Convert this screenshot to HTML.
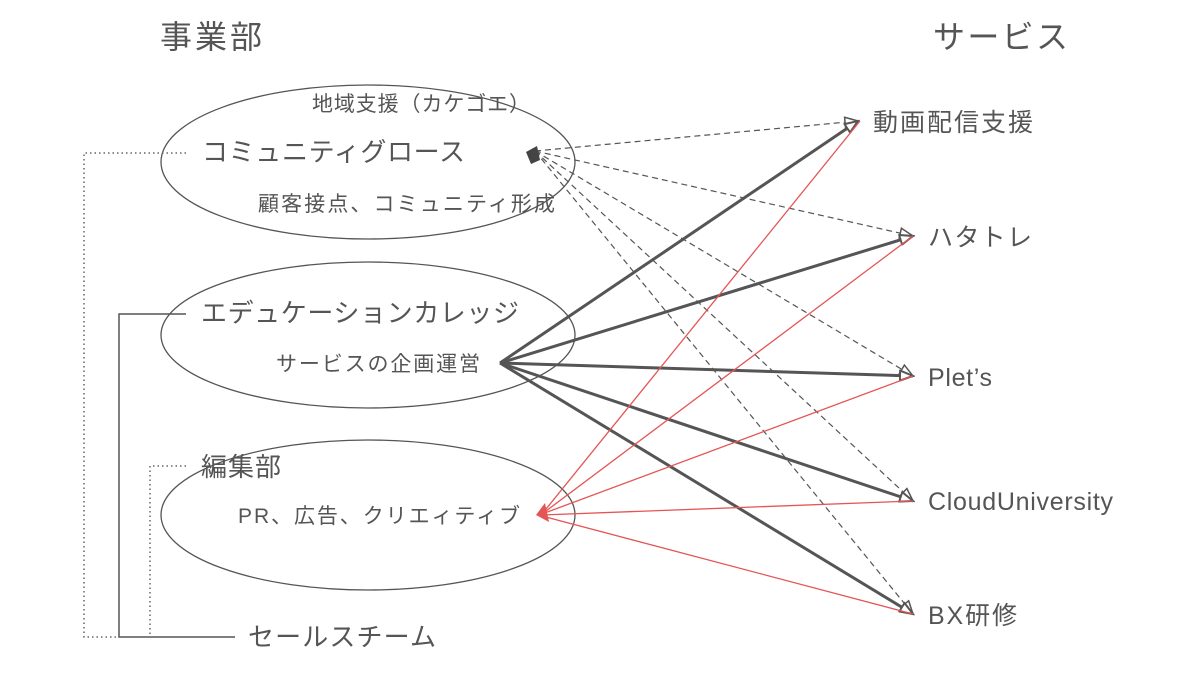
<!DOCTYPE html>
<html><head><meta charset="utf-8"><style>
html,body{margin:0;padding:0;background:#fff;}
svg text{font-family:"Liberation Sans","Noto Sans CJK JP",sans-serif;fill:#555;}
</style></head><body>
<svg width="1200" height="671" viewBox="0 0 1200 671" xmlns="http://www.w3.org/2000/svg">
<defs>
<marker id="oa" markerWidth="16" markerHeight="12" refX="14" refY="6" orient="auto" markerUnits="userSpaceOnUse">
<path d="M1,1 L14,6 L1,11 Z" fill="#fff" stroke="#555" stroke-width="2"/></marker>
<marker id="ob" markerWidth="16" markerHeight="12" refX="14" refY="6" orient="auto" markerUnits="userSpaceOnUse">
<path d="M1,1 L14,6 L1,11 Z" fill="#fff" stroke="#555" stroke-width="1.5"/></marker>
</defs>
<g fill="none" stroke="#555" stroke-width="1.3">
<ellipse cx="368" cy="162" rx="207" ry="77"/>
<ellipse cx="368" cy="335" rx="207" ry="73"/>
<ellipse cx="368" cy="515" rx="207" ry="75"/>
</g>
<g fill="none" stroke="#666" stroke-width="1.5" stroke-dasharray="1.5,3">
<polyline points="186,153 84,153 84,637 119,637"/>
<polyline points="186,466 150,466 150,637"/>
</g>
<polyline points="186,314 119,314 119,637 235,637" fill="none" stroke="#555" stroke-width="1.5"/>
<g stroke="#555" stroke-width="1.2" stroke-dasharray="6,4" fill="none">
<line x1="535" y1="151" x2="858" y2="121" marker-end="url(#ob)"/>
<line x1="535" y1="151" x2="913" y2="236" marker-end="url(#ob)"/>
<line x1="535" y1="151" x2="913" y2="376" marker-end="url(#ob)"/>
<line x1="535" y1="151" x2="913" y2="501" marker-end="url(#ob)"/>
<line x1="535" y1="151" x2="913" y2="614" marker-end="url(#ob)"/>
</g>
<path d="M526,152 L537,146 L540,160 L531,164 Z" fill="#444"/>
<g stroke="#555" stroke-width="3" fill="none">
<line x1="500" y1="363" x2="858" y2="121" marker-end="url(#oa)"/>
<line x1="500" y1="363" x2="913" y2="236" marker-end="url(#oa)"/>
<line x1="500" y1="363" x2="913" y2="376" marker-end="url(#oa)"/>
<line x1="500" y1="363" x2="913" y2="501" marker-end="url(#oa)"/>
<line x1="500" y1="363" x2="913" y2="614" marker-end="url(#oa)"/>
</g>
<g stroke="#e45555" stroke-width="1.3" fill="none">
<line x1="860" y1="121" x2="542" y2="514"/>
<line x1="913" y1="236" x2="542" y2="514"/>
<line x1="913" y1="376" x2="542" y2="514"/>
<line x1="913" y1="501" x2="542" y2="515"/>
<line x1="913" y1="614" x2="542" y2="516"/>
</g>
<path d="M536,515 L545,503 L549,522 Z" fill="#e45555"/>
<text x="160" y="48" font-size="32" textLength="102">事業部</text>
<text x="933" y="48" font-size="32" textLength="135">サービス</text>
<text x="312" y="111" font-size="21" textLength="218">地域支援（カケゴエ）</text>
<text x="202" y="161" font-size="26" textLength="263">コミュニティグロース</text>
<text x="258" y="211" font-size="21" textLength="297">顧客接点、コミュニティ形成</text>
<text x="201" y="322" font-size="26" textLength="318">エデュケーションカレッジ</text>
<text x="276" y="371" font-size="21" textLength="204">サービスの企画運営</text>
<text x="201" y="476" font-size="26" textLength="80">編集部</text>
<text x="238" y="523" font-size="21" textLength="282">PR、広告、クリエィティブ</text>
<text x="248" y="646" font-size="26" textLength="188">セールスチーム</text>
<text x="873" y="131" font-size="25" textLength="160">動画配信支援</text>
<text x="928" y="246" font-size="25" textLength="104">ハタトレ</text>
<text x="928" y="386" font-size="25" textLength="64">Plet’s</text>
<text x="928" y="510" font-size="25" textLength="185">CloudUniversity</text>
<text x="928" y="624" font-size="25" textLength="89">BX研修</text>
</svg>
</body></html>
